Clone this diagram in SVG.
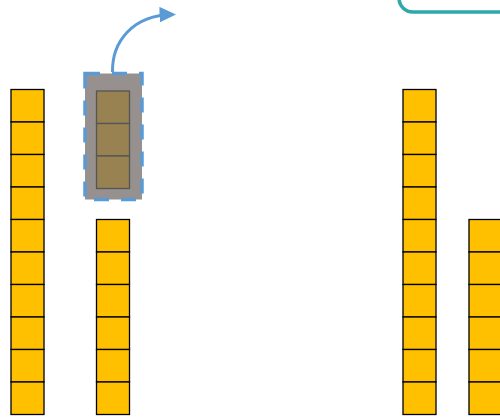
<svg xmlns="http://www.w3.org/2000/svg" width="500" height="417" viewBox="0 0 500 417">
<defs>
<style>
.cell{fill:#ffc000;stroke:#000;stroke-width:1.3}
.sel{fill:#96908e;stroke:#5b9bd5;stroke-width:3.5;stroke-dasharray:15 12}
.bcell{fill:#998252;stroke:#555;stroke-width:1.3}
.conn{fill:none;stroke:#5b9bd5;stroke-width:3}
</style>
<marker id="ah" markerWidth="5.5" markerHeight="5.2" refX="4.5" refY="2.6" orient="auto" markerUnits="strokeWidth" viewBox="0 0 5.5 5.2">
<path d="M0,0 L5.5,2.6 L0,5.2 z" fill="#5b9bd5"/>
</marker>
</defs>
<rect width="500" height="417" fill="#fff"/>
<g id="frame">
<rect x="399" y="-100" width="200" height="112" rx="14" fill="none" stroke="#2fa8aa" stroke-width="3.5"/>
</g>
<g id="col1">
<rect class="cell" x="11" y="89.5" width="33" height="32.5"/>
<rect class="cell" x="11" y="122" width="33" height="32.5"/>
<rect class="cell" x="11" y="154.5" width="33" height="32.5"/>
<rect class="cell" x="11" y="187" width="33" height="32.5"/>
<rect class="cell" x="11" y="219.5" width="33" height="32.5"/>
<rect class="cell" x="11" y="252" width="33" height="32.5"/>
<rect class="cell" x="11" y="284.5" width="33" height="32.5"/>
<rect class="cell" x="11" y="317" width="33" height="32.5"/>
<rect class="cell" x="11" y="349.5" width="33" height="32.5"/>
<rect class="cell" x="11" y="382" width="33" height="32.5"/>
</g>
<g id="col2">
<rect class="cell" x="96.5" y="219.5" width="33" height="32.5"/>
<rect class="cell" x="96.5" y="252" width="33" height="32.5"/>
<rect class="cell" x="96.5" y="284.5" width="33" height="32.5"/>
<rect class="cell" x="96.5" y="317" width="33" height="32.5"/>
<rect class="cell" x="96.5" y="349.5" width="33" height="32.5"/>
<rect class="cell" x="96.5" y="382" width="33" height="32.5"/>
</g>
<g id="col3">
<rect class="cell" x="403" y="89.5" width="33" height="32.5"/>
<rect class="cell" x="403" y="122" width="33" height="32.5"/>
<rect class="cell" x="403" y="154.5" width="33" height="32.5"/>
<rect class="cell" x="403" y="187" width="33" height="32.5"/>
<rect class="cell" x="403" y="219.5" width="33" height="32.5"/>
<rect class="cell" x="403" y="252" width="33" height="32.5"/>
<rect class="cell" x="403" y="284.5" width="33" height="32.5"/>
<rect class="cell" x="403" y="317" width="33" height="32.5"/>
<rect class="cell" x="403" y="349.5" width="33" height="32.5"/>
<rect class="cell" x="403" y="382" width="33" height="32.5"/>
</g>
<g id="col4">
<rect class="cell" x="469" y="219.5" width="33" height="32.5"/>
<rect class="cell" x="469" y="252" width="33" height="32.5"/>
<rect class="cell" x="469" y="284.5" width="33" height="32.5"/>
<rect class="cell" x="469" y="317" width="33" height="32.5"/>
<rect class="cell" x="469" y="349.5" width="33" height="32.5"/>
<rect class="cell" x="469" y="382" width="33" height="32.5"/>
</g>
<g id="selection">
<rect class="sel" x="85" y="73.5" width="57" height="126"/>
<rect class="bcell" x="96.5" y="91" width="33" height="32.5"/>
<rect class="bcell" x="96.5" y="123.5" width="33" height="32.5"/>
<rect class="bcell" x="96.5" y="156" width="33" height="32.5"/>
</g>
<g id="connectors">
<path class="conn" d="M112.5,72 C112,42 132,15 173,14.5" marker-end="url(#ah)"/>
</g>
</svg>
